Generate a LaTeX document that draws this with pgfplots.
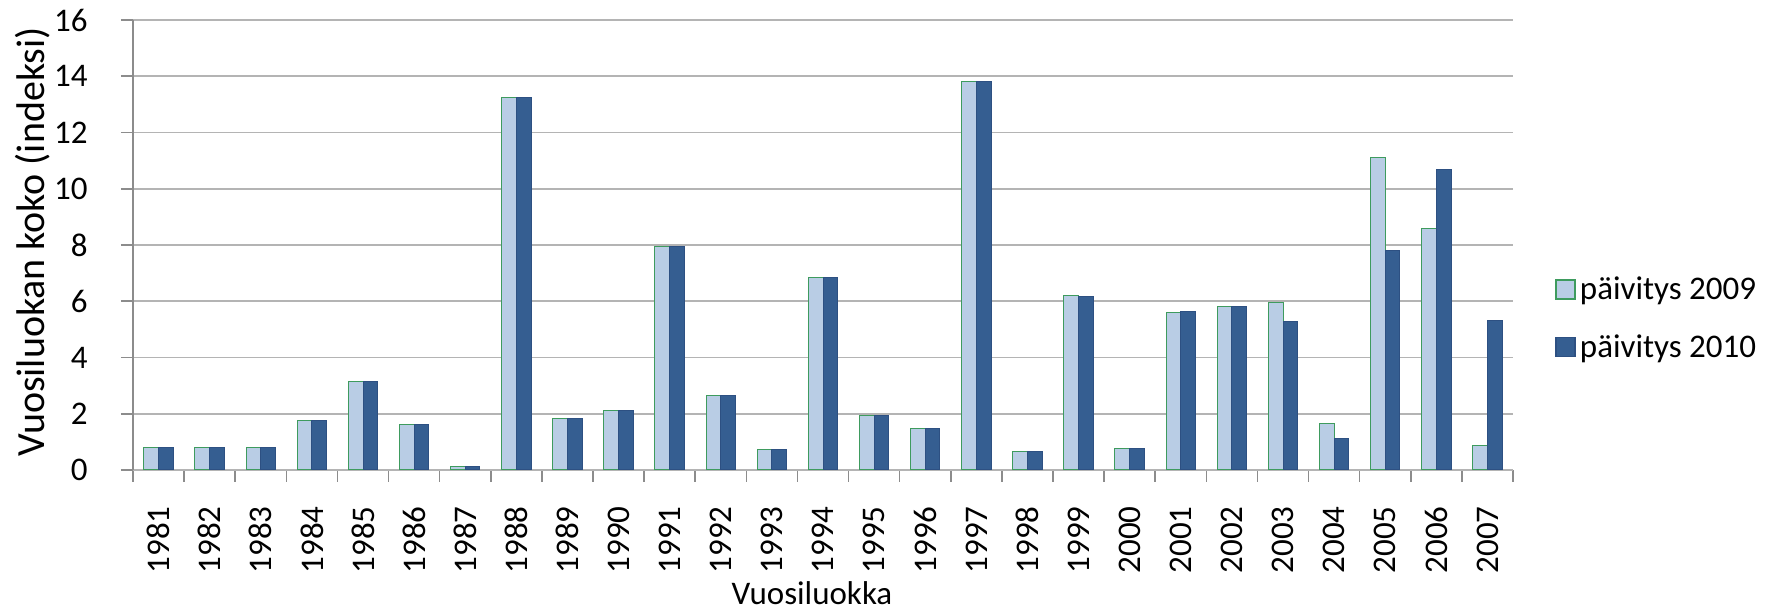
\documentclass[border=0pt]{standalone}
\usepackage{pgfplots}
\pgfplotsset{compat=1.18}
\usepackage{fontspec}
\setmainfont{Carlito}
\definecolor{light}{HTML}{B9CDE5}
\definecolor{lightedge}{HTML}{3E9B5E}
\definecolor{dark}{HTML}{355E91}
\definecolor{darkedge}{HTML}{2D5082}
\definecolor{gridc}{HTML}{B4B4B4}
\definecolor{axisc}{HTML}{8C8C8C}
\begin{document}
\begin{tikzpicture}
\begin{axis}[
  at={(66.5pt,71.5pt)}, anchor=south west,
  width=690pt, height=225pt, scale only axis,
  ybar=0pt, bar width=7.35pt,
  xmin=-0.5, xmax=26.5, ymin=0, ymax=16,
  axis x line*=bottom, axis y line*=left,
  x axis line style={gridc, line width=0.9pt},
  y axis line style={axisc, line width=1pt},
  xtick={-0.5,0.5,...,26.5},
  x tick label as interval,
  xticklabels={1981,1982,1983,1984,1985,1986,1987,1988,1989,1990,1991,1992,1993,1994,1995,1996,1997,1998,1999,2000,2001,2002,2003,2004,2005,2006,2007},
  ytick={0,2,...,16},
  ymajorgrids, grid style={gridc, line width=0.8pt},
  tick align=outside, major tick length=6pt,
  tick style={axisc, line width=0.8pt},
  /pgf/number format/assume math mode=true,
  ticklabel style={font=\fontsize{16.5}{19}\selectfont, text=black},
  xticklabel style={rotate=90, anchor=east, inner sep=0pt},
  xticklabel shift=12pt,
  yticklabel style={anchor=east, inner sep=0pt},
  yticklabel shift=16.5pt,
  ylabel={Vuosiluokan koko (indeksi)},
  ylabel style={font=\fontsize{20}{24}\selectfont, at={(axis description cs:-0.0725,0.507)}, anchor=center},
  xlabel={Vuosiluokka},
  xlabel style={font=\fontsize{16.5}{19}\selectfont, at={(axis description cs:0.492,0)}, anchor=center, yshift=-61.75pt},
  legend style={draw=none, fill=none, at={(axis description cs:1.0304,0.337)}, anchor=west,
    font=\fontsize{16.5}{19}\selectfont, inner sep=0pt, row sep=12pt,
    /tikz/every even column/.append style={column sep=5pt}},
  legend cell align=left,
]
\addplot[fill=light, draw=lightedge, line width=0.5pt,
  legend image code/.code={\draw[fill=light, draw=lightedge, line width=0.8pt] (0pt,-4.75pt) rectangle (9.5pt,4.75pt);}]
  coordinates {(0,0.80) (1,0.81) (2,0.81) (3,1.75) (4,3.15) (5,1.61) (6,0.13) (7,13.25) (8,1.83) (9,2.13) (10,7.95) (11,2.66) (12,0.74) (13,6.86) (14,1.95) (15,1.48) (16,13.83) (17,0.67) (18,6.20) (19,0.75) (20,5.59) (21,5.80) (22,5.95) (23,1.66) (24,11.10) (25,8.60) (26,0.86)};
\addplot[fill=dark, draw=darkedge, line width=0.5pt,
  legend image code/.code={\draw[fill=dark, draw=darkedge, line width=0.8pt] (0pt,-4.75pt) rectangle (9.5pt,4.75pt);}]
  coordinates {(0,0.79) (1,0.81) (2,0.81) (3,1.75) (4,3.15) (5,1.60) (6,0.12) (7,13.25) (8,1.82) (9,2.13) (10,7.95) (11,2.65) (12,0.74) (13,6.86) (14,1.95) (15,1.48) (16,13.83) (17,0.67) (18,6.18) (19,0.75) (20,5.63) (21,5.80) (22,5.28) (23,1.12) (24,7.80) (25,10.68) (26,5.31)};
\legend{päivitys 2009, päivitys 2010}
\end{axis}
\pgfresetboundingbox
\useasboundingbox (0,0) rectangle (885.5pt,306.5pt);
\end{tikzpicture}
\end{document}
